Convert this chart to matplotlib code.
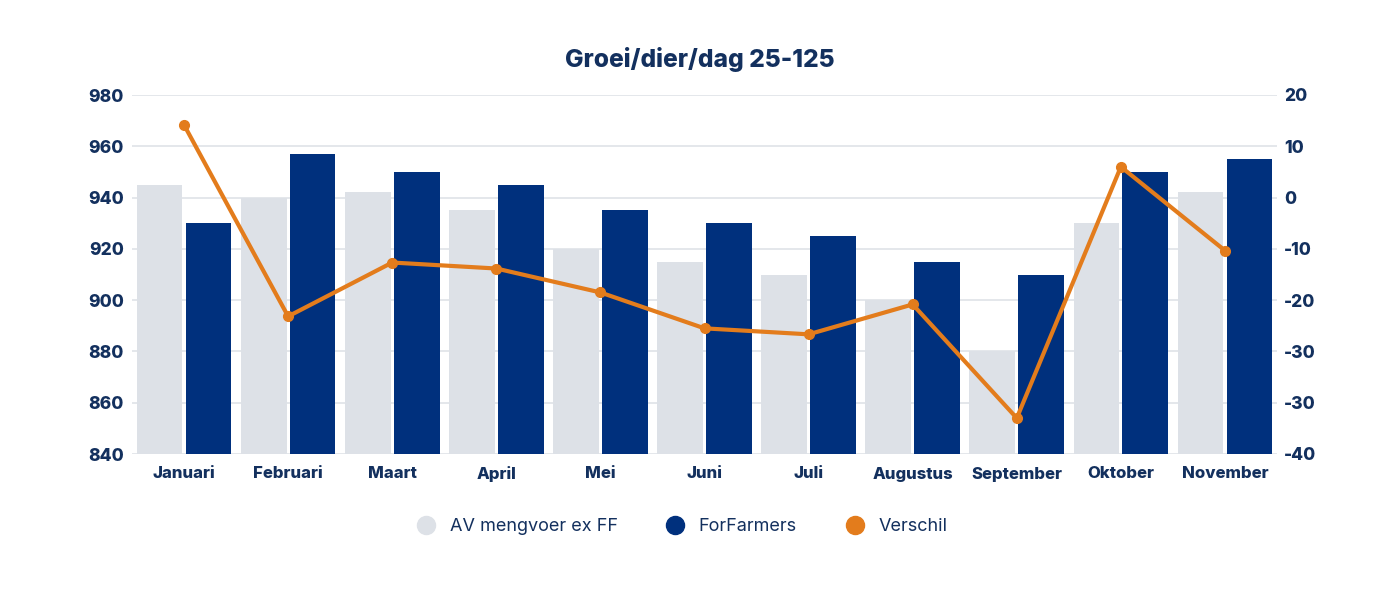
import matplotlib
matplotlib.use("Agg")
import matplotlib.pyplot as plt
import numpy as np
from matplotlib.lines import Line2D
from matplotlib.ticker import FixedLocator, FixedFormatter

months = ["Januari", "Februari", "Maart", "April", "Mei", "Juni", "Juli",
          "Augustus", "September", "Oktober", "November"]
av_mengvoer = [945, 940, 942, 935, 920, 915, 910, 900, 880, 930, 942]
forfarmers = [930, 957, 950, 945, 935, 930, 925, 915, 910, 950, 955]
verschil = [15, -17, -8, -9, -13, -19, -20, -15, -34, 8, -6]
left_ticks = [840, 860, 880, 900, 920, 940, 960, 980]
right_tick_labels = ["-40", "-30", "-30", "-20", "-10", "0", "10", "20"]

C_AV = "#dde1e7"
C_FF = "#00307d"
C_OR = "#e37c1c"
C_TXT = "#13305e"
C_GRID = "#dfe3e8"

plt.rcParams['font.family'] = ['Inter', 'DejaVu Sans']

fig = plt.figure(figsize=(14, 6), dpi=100)
ax = fig.add_axes([132/1400, 146/600, 1145/1400, 359/600])
x = np.arange(len(months))
bw = 0.44
off = 0.235
ax.bar(x - off, av_mengvoer, width=bw, color=C_AV, zorder=2)
ax.bar(x + off, forfarmers, width=bw, color=C_FF, zorder=2)
ax.set_ylim(840, 980)
ax.set_xlim(-0.5, len(months) - 0.5)
ax.yaxis.set_major_locator(FixedLocator(left_ticks))
ax.grid(axis='y', color=C_GRID, linewidth=1.2, zorder=0)
for s in ax.spines.values():
    s.set_visible(False)
ax.tick_params(axis='both', length=0, colors=C_TXT)
ax.set_xticks(x)
ax.set_xticklabels(months, fontsize=12, fontweight='heavy', color=C_TXT)
ax.tick_params(axis='x', pad=9)
ax.tick_params(axis='y', pad=6)
for lab in ax.get_yticklabels():
    lab.set_fontsize(12.5); lab.set_fontweight('heavy'); lab.set_color(C_TXT)

ax2 = ax.twinx()
ax2.set_ylim(-40, 20)
ax2.plot(x, verschil, color=C_OR, linewidth=3, marker='o', markersize=7, zorder=5)
pos = np.linspace(-40, 20, 8)
ax2.yaxis.set_major_locator(FixedLocator(pos))
ax2.yaxis.set_major_formatter(FixedFormatter(right_tick_labels))
for s in ax2.spines.values():
    s.set_visible(False)
ax2.tick_params(axis='y', length=0, colors=C_TXT, pad=5)
for lab in ax2.get_yticklabels():
    lab.set_fontsize(12.5); lab.set_fontweight('heavy'); lab.set_color(C_TXT)

fig.text(0.5, 0.9, "Groei/dier/dag 25-125", ha='center', va='center',
         fontsize=17.7, fontweight='heavy', color=C_TXT)

handles = [Line2D([], [], linestyle='none', marker='o', markersize=13, color=c)
           for c in (C_AV, C_FF, C_OR)]
leg = fig.legend(handles, ["AV mengvoer ex FF", "ForFarmers", "Verschil"],
                 loc='center', bbox_to_anchor=(0.484, 0.122), ncol=3, frameon=False,
                 fontsize=13, handletextpad=0.3, columnspacing=2.2)
for t in leg.get_texts():
    t.set_color(C_TXT)

fig.savefig("out.png", dpi=100, facecolor='white')
